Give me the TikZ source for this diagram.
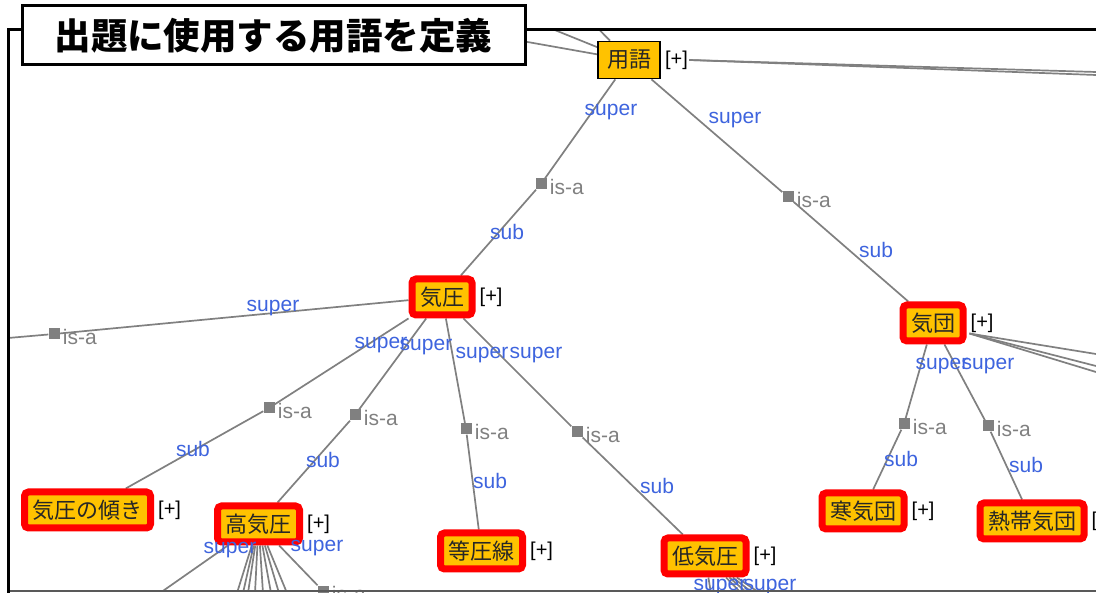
\documentclass[tikz,border=0pt]{standalone}
\usepackage{fontspec}
\setmainfont{Liberation Sans}
\newfontfamily\jp{Noto Sans CJK JP}
\definecolor{gold}{RGB}{255,194,0}
\definecolor{lblue}{RGB}{62,100,222}
\definecolor{lgray}{RGB}{128,128,128}
\pgfdeclarelayer{bg}
\pgfsetlayers{bg,main}
\begin{document}
\begin{tikzpicture}[x=1pt,y=-1pt,
  term/.style={draw=red, line width=7pt, fill=gold, rounded corners=4pt, minimum height=36pt, inner xsep=8pt, inner ysep=0pt, font=\jp\fontsize{22}{22}\selectfont, text=black!85},
  root/.style={draw=black, line width=1.8pt, fill=gold, minimum height=37pt, minimum width=62pt, inner xsep=6pt, inner ysep=0pt, font=\jp\fontsize{22}{22}\selectfont, text=black!85},
  plus/.style={anchor=west, font=\fontsize{20}{20}\selectfont, inner sep=1pt, text=black},
  isa/.style={fill=lgray, minimum size=11pt, inner sep=0pt},
  isalbl/.style={anchor=west, text=lgray, font=\fontsize{21}{21}\selectfont, inner sep=0pt, xshift=3pt, yshift=-3pt},
  rel/.style={text=lblue, font=\fontsize{21}{21}\selectfont, inner sep=0pt},
  link/.style={draw=lgray, line width=1.7pt}
]
\useasboundingbox (0,0) rectangle (1096,593);

% nodes
\node[root] (root) at (629,60) {用語};
\node[term] (kiatsu) at (442,297) {気圧};
\node[term] (kidan) at (933,323) {気団};
\node[term] (katamuki) at (87.5,510) {気圧の傾き};
\node[term] (kouki) at (258.5,524) {高気圧};
\node[term] (touatsu) at (481.5,551) {等圧線};
\node[term] (teiki) at (705,556) {低気圧};
\node[term] (kanki) at (863,511) {寒気団};
\node[term] (nettai) at (1032,521) {熱帯気団};

\foreach \n in {root,kiatsu,kidan,katamuki,kouki,touatsu,teiki,kanki,nettai}
  \node[plus] (p-\n) at ([xshift=3pt]\n.east) {[+]};

% is-a markers
\node[isa] (m1) at (541,184) {};
\node[isa] (m2) at (788,197) {};
\node[isa] (m3) at (54,334) {};
\node[isa] (m4) at (269,408) {};
\node[isa] (m5) at (355,415) {};
\node[isa] (m6) at (466,429) {};
\node[isa] (m7) at (577,432) {};
\node[isa] (m8) at (904,424) {};
\node[isa] (m9) at (988,426) {};
\node[isa] (m10) at (323,591) {};
\foreach \m in {m1,m2,m3,m4,m5,m6,m7,m8,m9,m10}
  \node[isalbl] (l-\m) at (\m.east) {is-a};

% relation labels
\node[rel] (s1) at (611,112) {super};
\node[rel] (s2) at (735,120) {super};
\node[rel] (s3) at (273,308) {super};
\node[rel] (s4) at (381,345) {super};
\node[rel] (s5) at (426,347) {super};
\node[rel] (s6) at (482,355) {super};
\node[rel] (s7) at (536,355) {super};
\node[rel] (s8) at (942,366) {super};
\node[rel] (s9) at (988,366) {super};
\node[rel] (s10) at (230,550) {super};
\node[rel] (s11) at (317,548) {super};
\node[rel] (s12) at (720,587) {super};
\node[rel] (s13) at (770,587) {super};
\node[rel] (b1) at (507,232) {sub};
\node[rel] (b2) at (876,250) {sub};
\node[rel] (b3) at (193,449) {sub};
\node[rel] (b4) at (323,460) {sub};
\node[rel] (b5) at (490,481) {sub};
\node[rel] (b6) at (657,486) {sub};
\node[rel] (b7) at (901,459) {sub};
\node[rel] (b8) at (1026,465) {sub};

% free ends
\coordinate (e1) at (8,338);
\coordinate (r1) at (1096,72);
\coordinate (r2) at (1096,75);
\coordinate (ul1) at (460,30);
\coordinate (ul2) at (530,20);
\coordinate (ul3) at (570,0);
\coordinate (k1) at (1096,354);
\coordinate (k2) at (1096,366);
\coordinate (k3) at (1096,372);

\begin{pgfonlayer}{bg}
\fill[white] (0,0) rectangle (1096,593);
\begin{scope}
\clip (8,30) rectangle (1096,591);
\draw[link] (root) -- (m1) -- (kiatsu);
\draw[link] (root) -- (m2) -- (kidan);
\draw[link] (kiatsu) -- (m3) -- (e1);
\draw[link] (kiatsu) -- (m4) -- (katamuki);
\draw[link] (kiatsu) -- (m5) -- (kouki);
\draw[link] (kiatsu) -- (m6) -- (touatsu);
\draw[link] (kiatsu) -- (m7) -- (teiki);
\draw[link] (kidan) -- (m8) -- (kanki);
\draw[link] (kidan) -- (m9) -- (nettai);
\draw[link] (kouki) -- (m10);
\foreach \x in {160,237,243,248,255,263,271,279,287}
  \draw[link] (kouki) -- (\x,593);
\foreach \x in {712,748,755,762,770}
  \draw[link] (teiki) -- (\x,600);
\draw[link] (p-root.east) -- (r1);
\draw[link] (p-root.east) -- (r2);
\draw[link] (root) -- (ul1);
\draw[link] (root) -- (ul2);
\draw[link] (root) -- (ul3);
\draw[link] (p-kidan.south west) -- (k1);
\draw[link] (p-kidan.south west) -- (k2);
\draw[link] (p-kidan.south west) -- (k3);
\end{scope}
\end{pgfonlayer}

% frame
\draw[black!65, line width=1.5pt] (8,591) -- (1096,591);
\draw[black, line width=3pt] (8,593) -- (8,30) -- (22,30);
\draw[black, line width=3pt] (525,30) -- (1096,30);
\node[draw=black, line width=3pt, fill=white, minimum width=503pt, minimum height=59pt, inner sep=0pt,
  font=\jp\bfseries\fontsize{36.5}{36.5}\selectfont] (title) at (273.5,35.5) {出題に使用する用語を定義};
\end{tikzpicture}
\end{document}
